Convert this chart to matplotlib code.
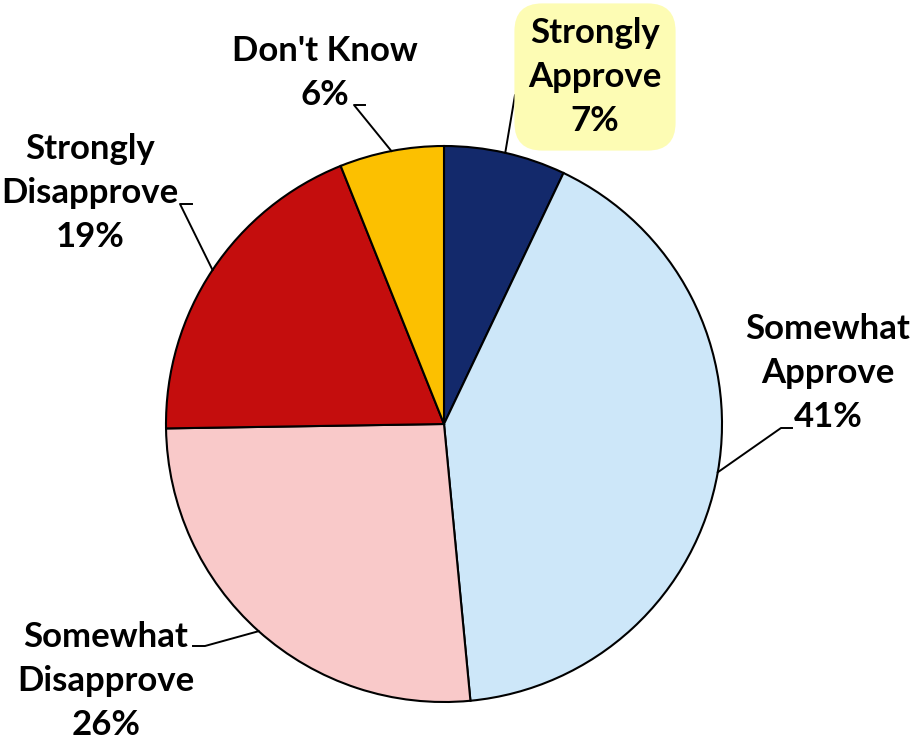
import matplotlib.pyplot as plt
import numpy as np

# survey shares, clockwise from 12 o'clock
labels = ['Strongly\nApprove', 'Somewhat\nApprove', 'Somewhat\nDisapprove',
          'Strongly\nDisapprove', "Don't Know"]
values = [7, 41, 26, 19, 6]
colors = ['#13296b', '#cde7f9', '#f9c9c9', '#c40d0d', '#fcc000']

W, H = 916, 743
fig = plt.figure(figsize=(W / 100, H / 100), dpi=100)
ax = fig.add_axes([0, 0, 1, 1])

cx, cy, r = 444, H - 424, 278
wedges, _ = ax.pie(values, colors=colors, startangle=90, counterclock=False,
                   center=(cx, cy), radius=r, frame=True,
                   wedgeprops=dict(edgecolor='black', linewidth=1.5))
ax.set_xlim(0, W)
ax.set_ylim(0, H)
ax.axis('off')

# label text centre (pixels from top-left) and elbow of the leader line
label_pos = [(595, 77), (828, 373), (106, 681), (90, 193), (325, 73)]
elbow = [((527, 95), (515, 95)), ((792, 428), (781, 428)),
         ((193, 646), (205, 646)), ((192, 204), (180, 204)),
         ((365, 105), (354, 105))]

font = dict(family='Lato', weight='bold', fontsize=25, color='black')

for i, (w, v) in enumerate(zip(wedges, values)):
    mid = np.deg2rad((w.theta1 + w.theta2) / 2)
    ex, ey = cx + r * np.cos(mid), cy + r * np.sin(mid)
    (x0, y0), (x1, y1) = elbow[i]
    ax.plot([x0, x1, ex], [H - y0, H - y1, ey], color='black', lw=1.4)
    tx, ty = label_pos[i]
    txt = f'{labels[i]}\n{v}%'
    if i == 0:
        ax.text(tx, H - ty, txt, ha='center', va='center', linespacing=1.45,
                bbox=dict(boxstyle='round,pad=0.4,rounding_size=0.8',
                          fc='#fdfcb4', ec='none'), **font)
    else:
        ax.text(tx, H - ty, txt, ha='center', va='center', linespacing=1.45, **font)

fig.savefig('out.png', dpi=100)
